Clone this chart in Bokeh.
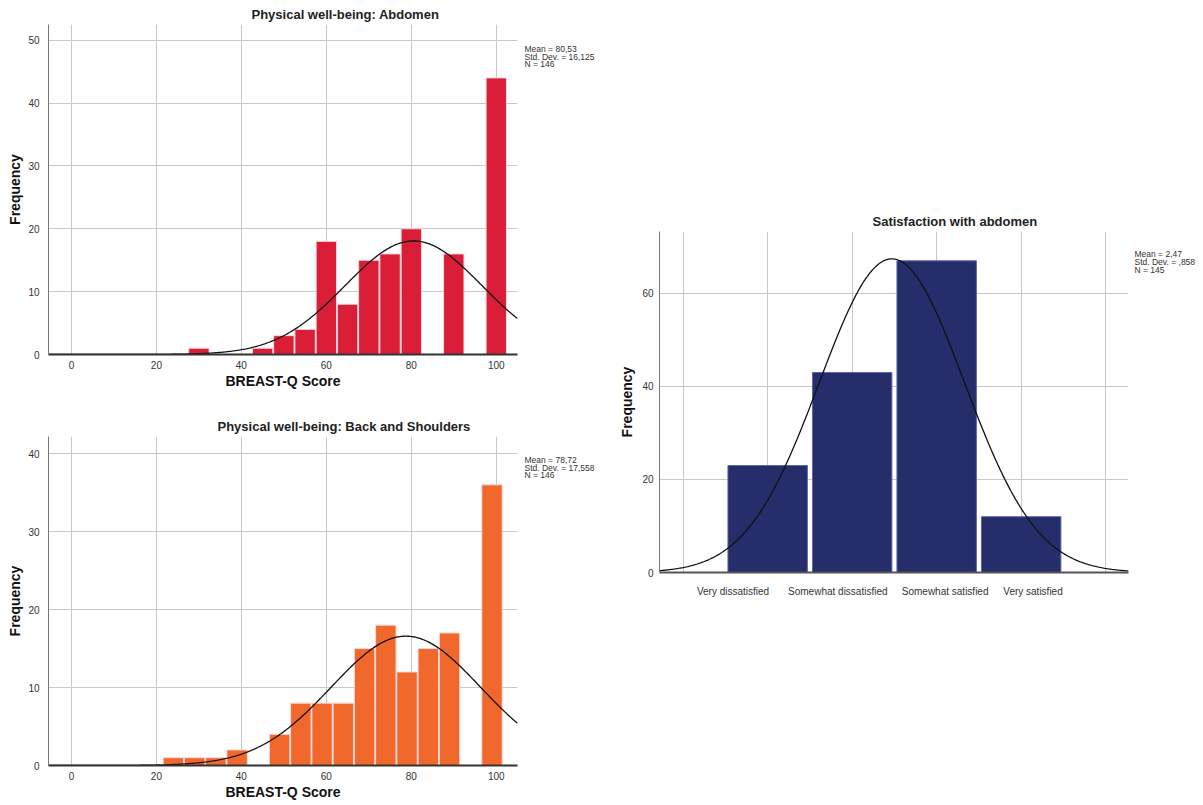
import numpy as np
from bokeh.plotting import figure
from bokeh.models import Range1d, FixedTicker, Label, Spacer, CustomJSTickFormatter
from bokeh.layouts import row, column
from bokeh.embed import file_html
from bokeh.resources import INLINE

# ---------------- data ----------------
abd_centers = [30, 45, 50, 55, 60, 65, 70, 75, 80, 90, 100]
abd_counts = [1, 1, 3, 4, 18, 8, 15, 16, 20, 16, 44]
abd_mean, abd_sd, abd_n = 80.53, 16.125, 146
abd_stat_text = ["Mean = 80,53", "Std. Dev. = 16,125", "N = 146"]

back_centers = [24, 29, 34, 39, 49, 54, 59, 64, 69, 74, 79, 84, 89, 99]
back_counts = [1, 1, 1, 2, 4, 8, 8, 8, 15, 18, 12, 15, 17, 36]
back_mean, back_sd, back_n = 78.72, 17.558, 146
back_stat_text = ["Mean = 78,72", "Std. Dev. = 17,558", "N = 146"]

sat_categories = ["Very dissatisfied", "Somewhat dissatisfied", "Somewhat satisfied", "Very satisfied"]
sat_codes = [1, 2, 3, 4]
sat_counts = [23, 43, 67, 12]
sat_mean, sat_sd, sat_n = 2.47, 0.858, 145
sat_stat_text = ["Mean = 2,47", "Std. Dev. = ,858", "N = 145"]

score_ticks = [0, 20, 40, 60, 80, 100]
score_binwidth = 5

# styling: label shifts so the long category names do not overlap
sat_label_shift = [-0.41, -0.17, 0.10, 0.14]

FONT = "Liberation Sans"


def normal_curve(x, mean, sd, n, binw):
    return n * binw / (sd * np.sqrt(2 * np.pi)) * np.exp(-0.5 * ((x - mean) / sd) ** 2)


def style(p, yticks, title_offset, title_standoff):
    p.title.text_font = FONT
    p.title.text_font_size = "13px"
    p.title.text_font_style = "bold"
    p.title.text_color = "#222222"
    p.title.align = "left"
    p.title.offset = title_offset
    p.title.standoff = title_standoff
    p.outline_line_color = None
    p.background_fill_color = "white"
    p.border_fill_color = "white"
    for g in (p.xgrid, p.ygrid):
        g.grid_line_color = "#C8C8C8"
        g.grid_line_width = 1
    for ax in (p.xaxis, p.yaxis):
        ax.major_tick_line_color = None
        ax.minor_tick_line_color = None
        ax.major_label_text_font = FONT
        ax.major_label_text_font_size = "10px"
        ax.major_label_text_color = "#333333"
        ax.axis_label_text_font = FONT
        ax.axis_label_text_font_size = "14px"
        ax.axis_label_text_font_style = "bold"
        ax.axis_label_text_color = "#111111"
    p.xaxis.axis_line_color = "#333333"
    p.xaxis.axis_line_width = 2
    p.yaxis.axis_line_color = "#777777"
    p.yaxis.axis_line_width = 1
    p.yaxis.ticker = FixedTicker(ticks=yticks)
    p.yaxis.axis_label = "Frequency"
    p.yaxis.major_label_standoff = 3
    p.yaxis.axis_label_standoff = 2


def stats_panel(width, height, first_line_y, texts):
    """Small text-only panel that carries the Mean / Std. Dev. / N box."""
    s = figure(width=width, height=height, output_backend="svg", toolbar_location=None,
               x_range=Range1d(0, width), y_range=Range1d(0, height),
               x_axis_location=None, y_axis_location=None,
               min_border=0, min_border_left=0, min_border_right=0,
               min_border_top=0, min_border_bottom=0)
    s.title = None
    s.grid.visible = False
    s.outline_line_color = None
    s.border_fill_color = "white"
    for i, t in enumerate(texts):
        s.add_layout(Label(x=4, y=height - first_line_y - 9 * i, text=t, text_font=FONT,
                           text_font_size="8.5px", text_color="#333333",
                           text_baseline="middle", text_align="left"))
    return s


def score_hist(title, centers, counts, mean, sd, n, color, height, ymax, yticks,
               top, bottom, title_offset, title_standoff):
    p = figure(width=520, height=height, output_backend="svg", toolbar_location=None,
               x_range=Range1d(-5.4, 105), y_range=Range1d(0, ymax), title=title,
               min_border_left=48, min_border_right=3, min_border_top=top,
               min_border_bottom=bottom)
    style(p, yticks, title_offset, title_standoff)
    p.xaxis.ticker = FixedTicker(ticks=score_ticks)
    p.xaxis.axis_label = "BREAST-Q Score"
    p.xaxis.major_label_standoff = 0
    p.xaxis.axis_label_standoff = 1
    p.vbar(x=centers, top=counts, bottom=0, width=score_binwidth * 0.96,
           fill_color=color, line_color="#F8D8DC", line_width=1)
    xs = np.linspace(-5.4, 105, 400)
    p.line(xs, normal_curve(xs, mean, sd, n, score_binwidth), line_color="#111111", line_width=1.3)
    return p


f1 = score_hist("Physical well-being: Abdomen", abd_centers, abd_counts, abd_mean, abd_sd, abd_n,
                "#DA1E38", 400, 52.5, [0, 10, 20, 30, 40, 50], 24, 46, 203, 6)
s1 = stats_panel(88, 400, 30, abd_stat_text)
f2 = score_hist("Physical well-being: Back and Shoulders", back_centers, back_counts, back_mean,
                back_sd, back_n, "#F0682B", 403, 42.2, [0, 10, 20, 30, 40], 36, 38, 169, 5)
s2 = stats_panel(88, 403, 29, back_stat_text)

# right chart
f3 = figure(width=522, height=402, output_backend="svg", toolbar_location=None,
            x_range=Range1d(-0.28, 5.27), y_range=Range1d(0, 73.3),
            title="Satisfaction with abdomen",
            min_border_left=51, min_border_right=2, min_border_top=31, min_border_bottom=30)
style(f3, [0, 20, 40, 60], 213, 6)
f3.yaxis.major_label_standoff = 0
f3.yaxis.axis_label_standoff = 4
f3.xaxis.ticker = FixedTicker(ticks=[c + d for c, d in zip(sat_codes, sat_label_shift)])
f3.xaxis.formatter = CustomJSTickFormatter(args=dict(names=sat_categories),
                                           code="return names[Math.round(tick) - 1]")
f3.xgrid.ticker = FixedTicker(ticks=[0] + sat_codes + [5])
f3.xaxis.major_label_standoff = 7
f3.xaxis.axis_line_color = "#555555"
f3.vbar(x=sat_codes, top=sat_counts, bottom=0, width=0.94,
        fill_color="#252D6B", line_color="#5A68A6", line_width=1)
xs3 = np.linspace(-0.28, 5.27, 400)
f3.line(xs3, normal_curve(xs3, sat_mean, sat_sd, sat_n, 1), line_color="#111111", line_width=1.3)
s3 = stats_panel(72, 402, 27, sat_stat_text)

layout = row(column(row(f1, s1), row(f2, s2)),
             column(Spacer(width=594, height=200), row(f3, s3)))

open("out.html", "w").write(file_html(layout, INLINE))
